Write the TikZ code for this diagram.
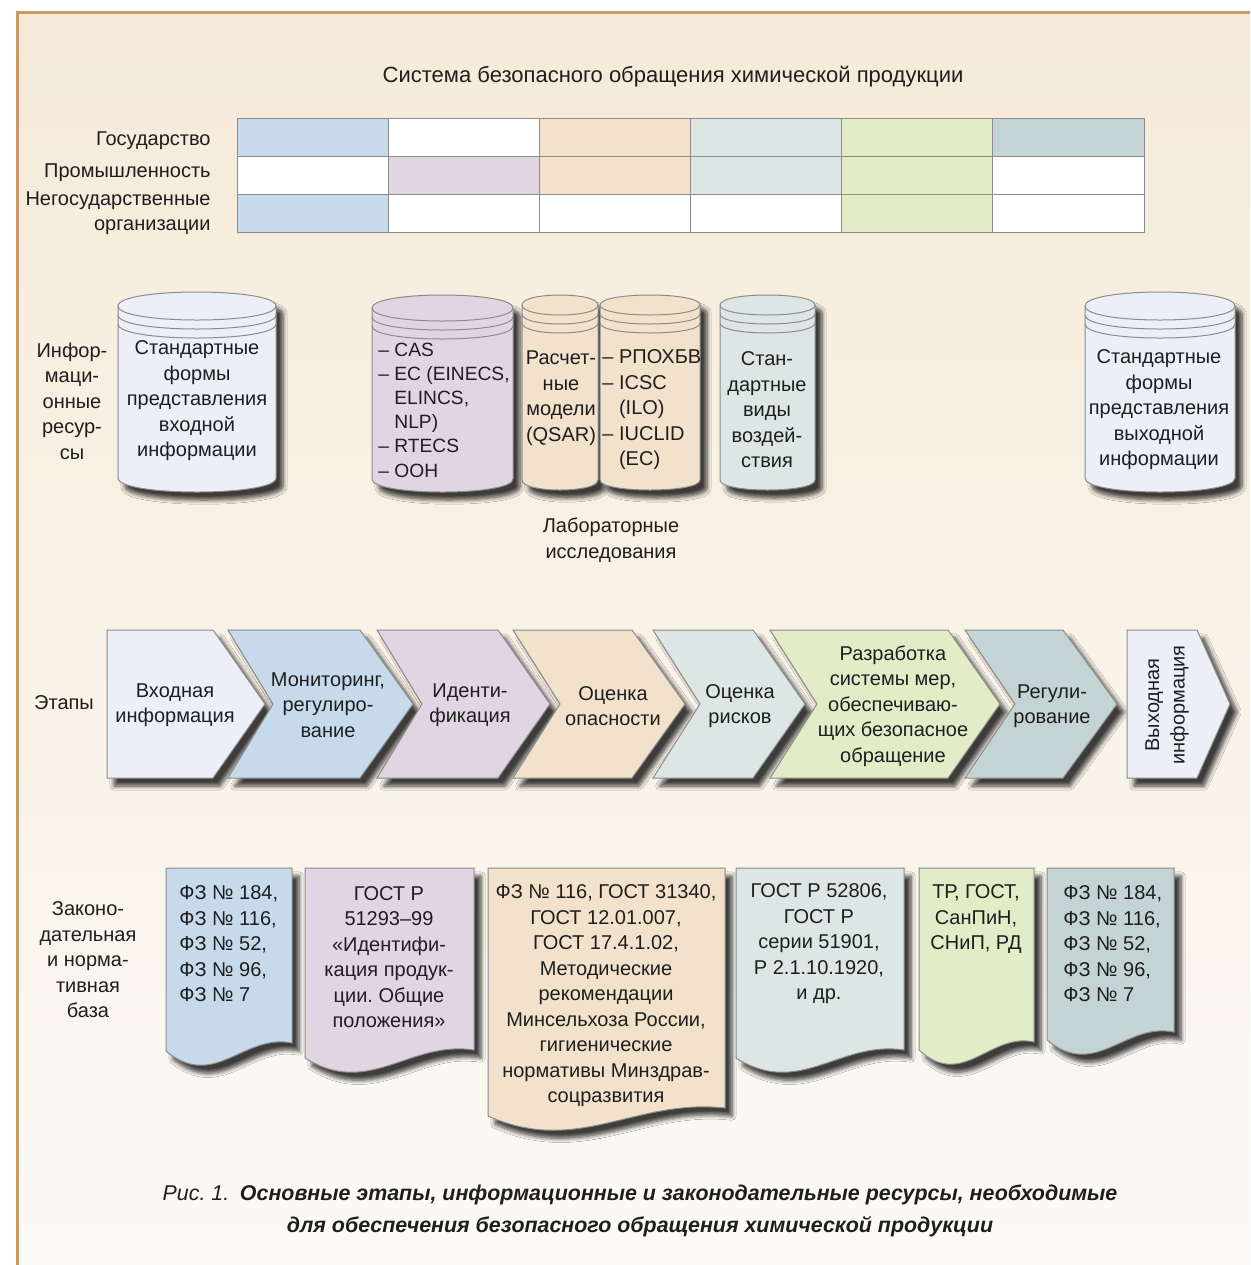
\documentclass[tikz,border=0pt]{standalone}
\usepackage{fontspec}
\setmainfont{Liberation Sans}
\frenchspacing
\usetikzlibrary{shadows.blur}
\definecolor{bgtop}{HTML}{F5EAD8}
\definecolor{bgbot}{HTML}{FCFAF6}
\definecolor{framec}{HTML}{C99A62}
\definecolor{edge}{HTML}{8C8C8C}
\definecolor{txt}{HTML}{1E1E1E}
\definecolor{cin}{HTML}{ECEFF7}
\definecolor{cblue}{HTML}{C6DAEB}
\definecolor{cpurple}{HTML}{E1D5E3}
\definecolor{cpeach}{HTML}{F2E2CB}
\definecolor{clgray}{HTML}{DCE6E5}
\definecolor{cgreen}{HTML}{E2EDC8}
\definecolor{cteal}{HTML}{C4D4D5}
\begin{document}
\begin{tikzpicture}[x=0.5pt,y=-0.5pt,
    every node/.style={font=\fontsize{10}{12.75}\selectfont, text=txt,
      align=center, inner sep=0pt},
    outl/.style={draw=edge, line width=0.5pt},
    shad/.style={blur shadow={shadow xshift=3.5pt, shadow yshift=-4pt,
        shadow opacity=75, shadow blur steps=6}},
    cell/.style={draw=edge, line width=0.5pt}]
  \useasboundingbox (0,0) rectangle (1250,1265);
  % background and frame
  \fill[white] (0,0) rectangle (1250,1265);
  \shade[top color=bgtop, middle color=bgtop, bottom color=bgbot] (17,12) rectangle (1250,1265);
  \draw[framec, line width=1.5pt] (17,1265) -- (17,12) -- (1250,12);

  % table
  \node[font=\fontsize{11}{13}\selectfont] (title) at (673,77) {Система безопасного обращения химической продукции};
  \foreach \col [count=\i from 0] in {cblue,white,cpeach,clgray,cgreen,cteal}
    \draw[cell, fill=\col] ({237+151.17*\i},118) rectangle ++(151.17,38);
  \foreach \col [count=\i from 0] in {white,cpurple,cpeach,clgray,cgreen,white}
    \draw[cell, fill=\col] ({237+151.17*\i},156) rectangle ++(151.17,38);
  \foreach \col [count=\i from 0] in {cblue,white,white,white,cgreen,white}
    \draw[cell, fill=\col] ({237+151.17*\i},194) rectangle ++(151.17,38);
  \node[anchor=east] (state) at (211,141) {Государство};
  \node[anchor=east] (industry) at (211,173) {Промышленность};
  \node[anchor=east, align=right] (ngo) at (211,213) {Негосударственные\\организации};

  % information resources
  \foreach \xa/\xb/\ya/\yb/\rad/\col in {118/276/292/492/14/cin, 372/513/295/492/13/cpurple,
      522/598/295/490/10/cpeach, 600/700/295/490/10/cpeach, 720/815/295/490/10/clgray,
      1085/1235/292/492/14/cin}{
    \pgfmathsetmacro\tc{\ya+\rad}
    \pgfmathsetmacro\bc{\yb-\rad}
    \pgfmathsetmacro\k{4/3*\rad}
    \filldraw[outl, fill=\col, shad] (\xa,\tc) -- (\xa,\bc)
      .. controls (\xa,\bc+\k) and (\xb,\bc+\k) .. (\xb,\bc) -- (\xb,\tc)
      .. controls (\xb,\tc-\k) and (\xa,\tc-\k) .. (\xa,\tc) -- cycle;
    \foreach \dy in {0,9,18}
      \draw[outl] (\xa,\tc+\dy) .. controls (\xa,\tc+\dy+\k) and (\xb,\tc+\dy+\k) .. (\xb,\tc+\dy);
  }
  \node (resources) at (72,401) {Инфор-\\маци-\\онные\\ресур-\\сы};
  \node (incyl) at (197,401) {Стандартные\\формы\\представления\\входной\\информации};
  \node[anchor=west, align=left, font=\fontsize{9.6}{12.1}\selectfont] (regcyl) at (378,410)
    {– CAS\\– EC (EINECS,\\\phantom{– }ELINCS,\\\phantom{– }NLP)\\– RTECS\\– ООН};
  \node (qsar) at (561,398) {Расчет-\\ные\\модели\\(QSAR)};
  \node[anchor=west, align=left] (cards) at (602,410)
    {– РПОХБВ\\– ICSC\\\phantom{– }(ILO)\\– IUCLID\\\phantom{– }(EC)};
  \node (effects) at (767,410) {Стан-\\дартные\\виды\\воздей-\\ствия};
  \node (outcyl) at (1159,410) {Стандартные\\формы\\представления\\выходной\\информации};
  \node (lab) at (611,540) {Лабораторные\\исследования};

  % stages
  \foreach \xa/\xb/\nd/\tp/\col in {107/213/0/52/cin, 228/360/45/53/cblue, 377/498/45/52/cpurple,
      513/632/47/53/cpeach, 653/753/47/52/clgray, 770/948/47/52/cgreen,
      965/1063/50/54/cteal, 1127/1197/0/33/cin}
    \filldraw[outl, fill=\col, shad] (\xa,630) -- (\xb,630) -- (\xb+\tp,704)
      -- (\xb,778) -- (\xa,778) -- (\xa+\nd,704) -- cycle;
  \node (stages) at (64,703) {Этапы};
  \node (input) at (175,705) {Входная\\информация};
  \node (monitor) at (328,705) {Мониторинг,\\регулиро-\\вание};
  \node (ident) at (470,705) {Иденти-\\фикация};
  \node (hazard) at (613,706) {Оценка\\опасности};
  \node (risk) at (740,706) {Оценка\\рисков};
  \node (measures) at (893,706) {Разработка\\системы мер,\\обеспечиваю-\\щих безопасное\\обращение};
  \node (regul) at (1052,706) {Регули-\\рование};
  \node[rotate=90] (output) at (1167,705) {Выходная\\информация};

  % legal base
  \foreach \xa/\xb/\yb/\col in {166/292/1043/cblue, 305/474/1050/cpurple, 488/725/1108/cpeach,
      736/904/1050/clgray, 919/1034/1042/cgreen, 1047/1174/1032/cteal}
    \filldraw[outl, fill=\col, shad] (\xa,868) -- (\xb,868) -- (\xb,\yb)
      .. controls ({\xa+0.62*(\xb-\xa)},\yb-10) and ({\xa+0.38*(\xb-\xa)},\yb+48) .. (\xa,\yb+8) -- cycle;
  \node (base) at (88,960) {Законо-\\дательная\\и норма-\\тивная\\база};
  \node[anchor=west, align=left] (laws) at (179,944) {ФЗ № 184,\\ФЗ № 116,\\ФЗ № 52,\\ФЗ № 96,\\ФЗ № 7};
  \node (gostid) at (389,957) {ГОСТ Р\\51293–99\\«Идентифи-\\кация продук-\\ции. Общие\\положения»};
  \node (hazdocs) at (606,996) {ФЗ № 116, ГОСТ 31340,\\ГОСТ 12.01.007,\\ГОСТ 17.4.1.02,\\Методические\\рекомендации\\Минсельхоза России,\\гигиенические\\нормативы Минздрав-\\соцразвития};
  \node (riskdocs) at (819,944) {ГОСТ Р 52806,\\ГОСТ Р\\серии 51901,\\Р 2.1.10.1920,\\и др.};
  \node (measdocs) at (976,919) {ТР, ГОСТ,\\СанПиН,\\СНиП, РД};
  \node[anchor=west, align=left] (regdocs) at (1063,944) {ФЗ № 184,\\ФЗ № 116,\\ФЗ № 52,\\ФЗ № 96,\\ФЗ № 7};

  % caption
  \node[font=\fontsize{10.7}{16}\selectfont] (caption) at (640,1211)
    {\textit{Рис. 1.}\hspace{0.5em}\textbf{\textit{Основные этапы, информационные и законодательные ресурсы, необходимые}}\\
     \textbf{\textit{для обеспечения безопасного обращения химической продукции}}};
\end{tikzpicture}
\end{document}
